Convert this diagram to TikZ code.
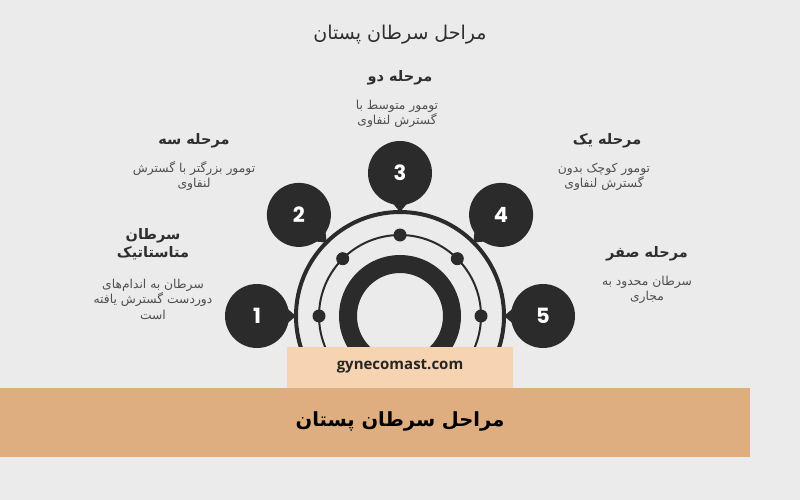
\documentclass[tikz,border=0pt]{standalone}
\usepackage{fontspec}
\setmainfont{DejaVu Sans}
\TeXXeTstate=1
\newfontfamily\fafont[Script=Arabic]{DejaVu Sans}
\newfontfamily\numfont{Poppins}
\newfontfamily\webfont{Open Sans}
\usetikzlibrary{calc}
\definecolor{bg}{HTML}{EBEBEB}
\definecolor{ink}{HTML}{2B2B2B}
\definecolor{band}{HTML}{DFAE80}
\definecolor{peach}{HTML}{F6D4B2}
\definecolor{headc}{HTML}{2E2E2E}
\definecolor{descc}{HTML}{505050}
\newcommand{\rl}[1]{\beginR #1\endR}
\tikzset{
  bubble/.style={circle, fill=ink, minimum size=64pt, inner sep=0pt, text=white,
    font=\numfont\bfseries\fontsize{21}{21}\selectfont},
  dotnode/.style={circle, fill=ink, minimum size=13pt, inner sep=0pt},
  headlbl/.style={text=headc, align=center, inner sep=0pt,
    font=\fafont\bfseries\fontsize{14.5}{18.5}\selectfont},
  desclbl/.style={text=descc, align=center, inner sep=0pt,
    font=\fafont\fontsize{12.3}{15.5}\selectfont},
  pointer/.style={fill=ink}
}
\begin{document}
\begin{tikzpicture}[x=1pt,y=-1pt]
\fill[bg] (0,0) rectangle (800,500);
\useasboundingbox (0,0) rectangle (800,500);

\node[text=headc, font=\fafont\fontsize{19}{19}\selectfont] (title) at (400,35) {\rl{مراحل سرطان پستان}};

\coordinate (O) at (400,316);
\draw[ink, line width=4pt] (O) circle (104pt);
\draw[ink, line width=2pt] (O) circle (81pt);
\draw[ink, line width=18pt] (O) circle (52pt);

\node[dotnode] (d1) at (319,316) {};
\node[dotnode] (d2) at (342.7,258.7) {};
\node[dotnode] (d3) at (400,235) {};
\node[dotnode] (d4) at (457.3,258.7) {};
\node[dotnode] (d5) at (481,316) {};

\node[bubble] (b1) at (257,316) {1};
\node[bubble] (b2) at (298.9,214.9) {2};
\node[bubble] (b3) at (400,173) {3};
\node[bubble] (b4) at (501.1,214.9) {4};
\node[bubble] (b5) at (543,316) {5};
\foreach \b in {b1,b2,b3,b4,b5}{
  \fill[pointer] ($(\b.center)!31pt!14:(O)$) -- ($(O)!104pt!(\b.center)$) -- ($(\b.center)!31pt!-14:(O)$) -- cycle;
}

% labels
\node[headlbl] (h3) at (400,78) {\rl{مرحله دو}};
\node[desclbl] (t3) at (397,114) {\rl{تومور متوسط با}\\\rl{گسترش لنفاوی}};

\node[headlbl] (h2) at (194,141) {\rl{مرحله سه}};
\node[desclbl] (t2) at (194,176) {\rl{تومور بزرگتر با گسترش}\\\rl{لنفاوی}};

\node[headlbl] (h1) at (153,244) {\rl{سرطان}\\\rl{متاستاتیک}};
\node[desclbl] (t1) at (153,299) {\rl{سرطان به اندام‌های}\\\rl{دوردست گسترش یافته}\\\rl{است}};

\node[headlbl] (h4) at (607,141) {\rl{مرحله یک}};
\node[desclbl] (t4) at (604,177) {\rl{تومور کوچک بدون}\\\rl{گسترش لنفاوی}};

\node[headlbl] (h5) at (647,254) {\rl{مرحله صفر}};
\node[desclbl] (t5) at (647,290) {\rl{سرطان محدود به}\\\rl{مجاری}};

% bottom
\fill[peach] (287,347) rectangle (513,388);
\node[font=\webfont\bfseries\fontsize{15}{15}\selectfont, text=black!85] (web) at (400,366) {gynecomast.com};
\fill[band] (0,388) rectangle (750,457);
\node[font=\fafont\bfseries\fontsize{19.5}{19.5}\selectfont, text=black] (btitle) at (400,421) {\rl{مراحل سرطان پستان}};
\end{tikzpicture}
\end{document}
